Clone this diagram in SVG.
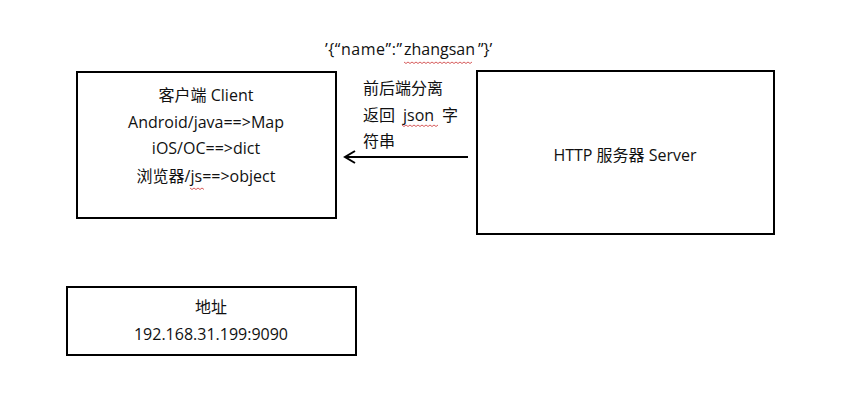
<svg xmlns="http://www.w3.org/2000/svg" width="844" height="400" viewBox="0 0 844 400">
<style>
.box{fill:#fff;stroke:#000;stroke-width:2}
text{font-family:"Open Sans","Noto Sans CJK SC",sans-serif;font-size:16px;fill:#111}
.c{text-anchor:middle}
.sq{fill:none;stroke:#c33;stroke-width:0.8}
</style>
<defs>
<marker id="ah" markerWidth="14" markerHeight="14" refX="11" refY="7" orient="auto" markerUnits="userSpaceOnUse">
<path d="M1,1 L11,7 L1,13" fill="none" stroke="#000" stroke-width="2"/>
</marker>
</defs>
<rect width="844" height="400" fill="#fff"/>
<text x="325" y="55"><tspan textLength="77" lengthAdjust="spacing">’{“name”:”</tspan><tspan x="404">zhangsan</tspan><tspan x="478">”}’</tspan></text>
<path class="sq" d="M404,62 l2,1.5 l2,-1.5 l2,1.5 l2,-1.5 l2,1.5 l2,-1.5 l2,1.5 l2,-1.5 l2,1.5 l2,-1.5 l2,1.5 l2,-1.5 l2,1.5 l2,-1.5 l2,1.5 l2,-1.5 l2,1.5 l2,-1.5 l2,1.5 l2,-1.5 l2,1.5 l2,-1.5 l2,1.5 l2,-1.5 l2,1.5 l2,-1.5 l2,1.5 l2,-1.5 l2,1.5 l2,-1.5 l2,1.5 l2,-1.5 l2,1.5 l2,-1.5"/>
<g id="client">
<rect class="box" x="77" y="72" width="259" height="146"/>
<text class="c" x="206" y="101">客户端 Client</text>
<text class="c" x="206" y="128">Android/java==&gt;Map</text>
<text class="c" x="206" y="154">iOS/OC==&gt;dict</text>
<text class="c" x="206" y="182">浏览器/js==&gt;object</text>
<path class="sq" d="M190,188 l2,1.5 l2,-1.5 l2,1.5 l2,-1.5 l2,1.5 l2,-1.5 l2,1.5"/>
</g>
<g id="server">
<rect class="box" x="477" y="71" width="297" height="163"/>
<text class="c" x="625" y="161">HTTP 服务器 Server</text>
</g>
<g id="address">
<rect class="box" x="67" y="287" width="289" height="68"/>
<text class="c" x="211" y="313">地址</text>
<text class="c" x="211" y="340">192.168.31.199:9090</text>
</g>
<g id="connectors">
<line x1="468" y1="157" x2="345" y2="157" stroke="#000" stroke-width="2" marker-end="url(#ah)"/>
<text x="363" y="94">前后端分离</text>
<text x="363" y="121">返回<tspan x="403">json</tspan><tspan x="442">字</tspan></text>
<text x="363" y="147">符串</text>
<path class="sq" d="M402,125 l2,1.5 l2,-1.5 l2,1.5 l2,-1.5 l2,1.5 l2,-1.5 l2,1.5 l2,-1.5 l2,1.5 l2,-1.5 l2,1.5 l2,-1.5 l2,1.5 l2,-1.5 l2,1.5 l2,-1.5 l2,1.5 l2,-1.5"/>
</g>
</svg>
